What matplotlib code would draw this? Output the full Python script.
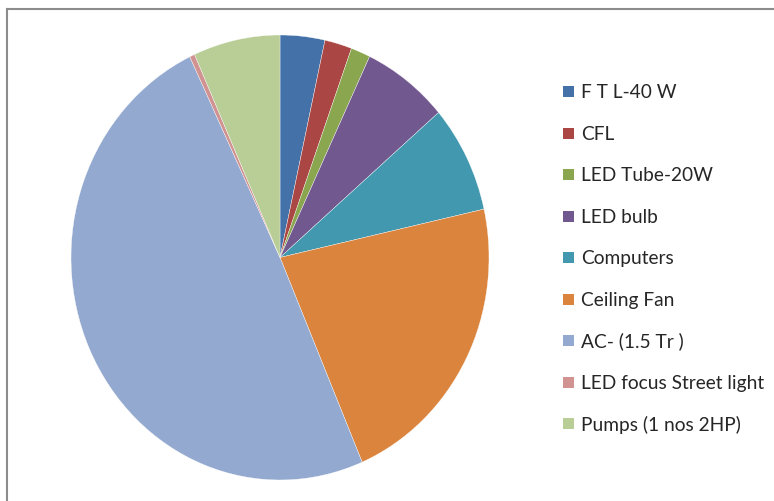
import matplotlib
matplotlib.use('Agg')
import matplotlib.pyplot as plt
from matplotlib.patches import Rectangle
from matplotlib.lines import Line2D

plt.rcParams['font.family'] = ['Lato', 'DejaVu Sans']

# 数据
labels = ['F T L-40 W', 'CFL', 'LED Tube-20W', 'LED bulb', 'Computers',
          'Ceiling Fan', 'AC- (1.5 Tr )', 'LED focus Street light', 'Pumps (1 nos 2HP)']
shares = [3.45, 2.1, 1.5, 6.65, 7.8, 22.05, 49.3, 0.4, 6.7]
colors = ['#4472a8', '#aa4744', '#8aa64f', '#71588f', '#4198af',
          '#db843d', '#93a9cf', '#d09392', '#b9cd96']

W, H = 774, 502
fig = plt.figure(figsize=(W / 100, H / 100), dpi=100)

# 外框 (只看得到左边和上边)
fig.add_artist(Line2D([7 / W, 7 / W], [0, 1 - 10 / H], color='#8c8c8c', lw=1.5))
fig.add_artist(Line2D([7 / W, 1], [1 - 10 / H, 1 - 10 / H], color='#8c8c8c', lw=1.5))

# 饼图 (原图有点拉伸, 所以用 auto aspect)
cx, cy, rx, ry = 280, 258.5, 209, 222.5
ax = fig.add_axes([(cx - rx) / W, (H - cy - ry) / H, 2 * rx / W, 2 * ry / H])
wedges, _ = ax.pie(shares, colors=colors, startangle=90, counterclock=False,
                   wedgeprops=dict(edgecolor='white', linewidth=0.25))
ax.set_aspect('auto')
ax.set_xlim(-1, 1)
ax.set_ylim(-1, 1)
ax.axis('off')

# 图例
y0, dy = 92.7, 41.5
for i, (lab, c) in enumerate(zip(labels, colors)):
    y = y0 + i * dy
    fig.add_artist(Rectangle((563 / W, 1 - (y + 5.3) / H), 10.7 / W, 10.7 / H,
                             facecolor=c, edgecolor='none', transform=fig.transFigure))
    fig.text(581 / W, 1 - y / H, lab, fontsize=13.8, color='#262626',
             ha='left', va='center')

fig.savefig('out.png', dpi=100)
